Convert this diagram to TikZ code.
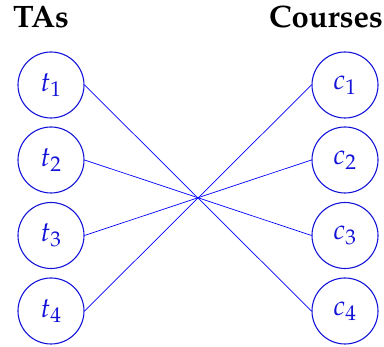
\documentclass[tikz,border=0pt]{standalone}
\usepackage[T1]{fontenc}
\usepackage{mathpazo}
\definecolor{nodeblue}{rgb}{0.08,0.08,0.85}
\begin{document}
\begin{tikzpicture}[x=1pt,y=-1pt,
  vert/.style={circle,draw=nodeblue,line width=1.1pt,minimum size=66pt,inner sep=0pt,text=nodeblue,font=\fontsize{28}{32}\selectfont},
  hdr/.style={font=\fontsize{31}{36}\selectfont\bfseries,inner sep=0pt},
  edge/.style={blue,line width=0.7pt}]
\useasboundingbox (0,0) rectangle (384,347);
\node[hdr,anchor=base west] (hta) at (13,28) {TAs};
\node[hdr,anchor=base east] (hco) at (383,28) {Courses};
\node[vert] (t1) at (51,85) {$t_1$};
\node[vert] (t2) at (51,160) {$t_2$};
\node[vert] (t3) at (51,235.5) {$t_3$};
\node[vert] (t4) at (51,311) {$t_4$};
\node[vert] (c1) at (345,85) {$c_1$};
\node[vert] (c2) at (345,160) {$c_2$};
\node[vert] (c3) at (345,235.5) {$c_3$};
\node[vert] (c4) at (345,311) {$c_4$};
\draw[edge] (t1.east) -- (c4.west);
\draw[edge] (t2.east) -- (c3.west);
\draw[edge] (t3.east) -- (c2.west);
\draw[edge] (t4.east) -- (c1.west);
\end{tikzpicture}
\end{document}
